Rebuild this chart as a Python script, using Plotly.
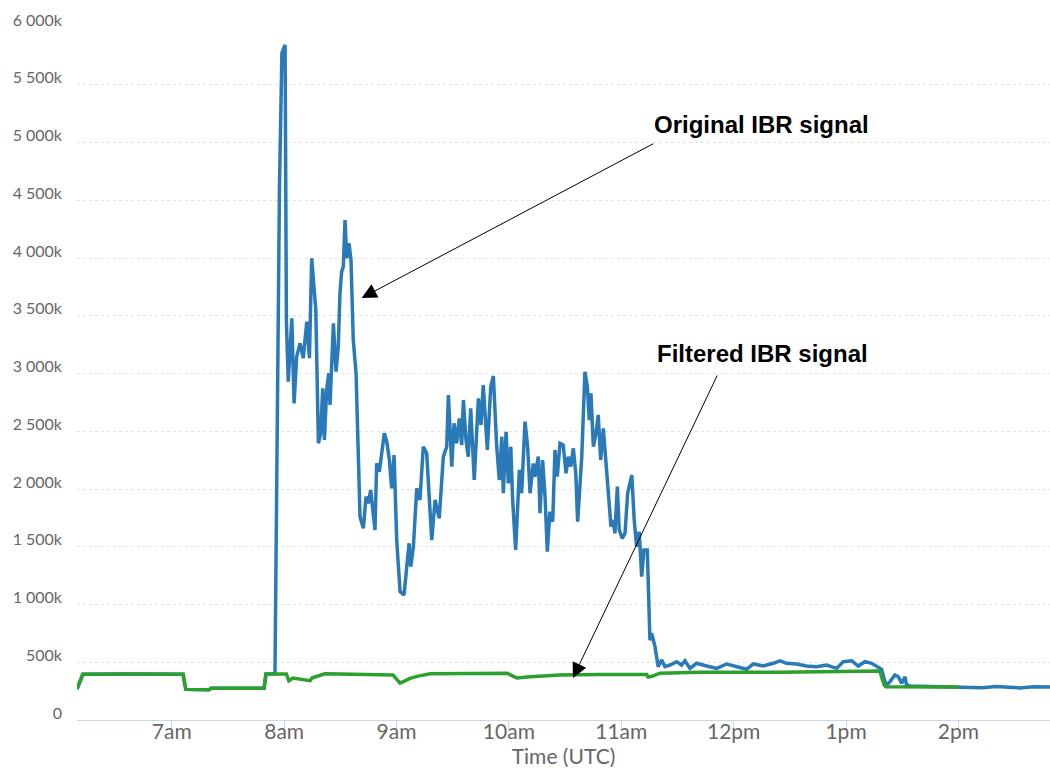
import pandas as pd
import plotly.graph_objects as go

DAY = "2018-01-01 "

# Original IBR signal (values in thousands)
orig_time = [
    "06:09:24", "06:12:30", "06:40:00", "07:06:00", "07:07:30", "07:20:00", "07:21:00", "07:49:18",
    "07:50:18", "07:55:06", "07:57:30", "07:58:48", "08:00:30", "08:01:12", "08:02:12", "08:04:06",
    "08:05:18", "08:06:42", "08:08:30", "08:10:12", "08:12:06", "08:13:30", "08:14:42", "08:16:00",
    "08:16:54", "08:18:18", "08:19:30", "08:20:36", "08:21:30", "08:22:42", "08:23:48", "08:24:30",
    "08:26:18", "08:27:42", "08:28:54", "08:29:48", "08:30:42", "08:31:36", "08:32:30", "08:33:24",
    "08:34:36", "08:35:42", "08:36:54", "08:38:24", "08:39:36", "08:40:30", "08:42:18", "08:43:42",
    "08:44:54", "08:46:12", "08:48:30", "08:49:24", "08:50:48", "08:52:06", "08:53:30", "08:54:48",
    "08:56:12", "08:57:24", "08:58:42", "09:00:06", "09:01:54", "09:04:00", "09:05:24", "09:06:42",
    "09:07:36", "09:09:00", "09:10:48", "09:12:30", "09:14:18", "09:16:06", "09:18:48", "09:20:36",
    "09:22:48", "09:25:00", "09:26:48", "09:27:42", "09:29:30", "09:30:42", "09:32:06", "09:33:30",
    "09:34:48", "09:35:42", "09:37:06", "09:38:18", "09:39:36", "09:41:30", "09:43:42", "09:45:06",
    "09:46:18", "09:48:30", "09:50:18", "09:51:42", "09:53:30", "09:54:54", "09:56:12", "09:57:00",
    "09:58:30", "09:59:42", "10:01:00", "10:02:00", "10:03:36", "10:05:36", "10:06:48", "10:08:36",
    "10:10:00", "10:11:18", "10:13:00", "10:13:54", "10:15:42", "10:16:36", "10:18:00", "10:19:18",
    "10:20:30", "10:21:54", "10:23:24", "10:24:36", "10:25:48", "10:27:18", "10:29:00", "10:30:30",
    "10:31:42", "10:33:00", "10:34:24", "10:35:42", "10:36:42", "10:38:54", "10:40:36", "10:41:54",
    "10:42:54", "10:43:48", "10:45:06", "10:46:30", "10:47:42", "10:49:00", "10:50:24", "10:51:48",
    "10:53:36", "10:54:30", "10:55:42", "10:56:36", "10:57:54", "10:58:54", "11:00:30", "11:02:00",
    "11:03:24", "11:05:36", "11:06:54", "11:08:12", "11:09:36", "11:10:54", "11:12:06", "11:13:54",
    "11:15:18", "11:16:12", "11:18:00", "11:19:42", "11:21:36", "11:23:18", "11:26:00", "11:29:36",
    "11:32:12", "11:34:00", "11:36:42", "11:40:12", "11:45:36", "11:50:54", "11:56:18", "12:01:36",
    "12:06:54", "12:10:30", "12:15:48", "12:21:06", "12:24:42", "12:28:18", "12:33:36", "12:38:54",
    "12:44:18", "12:49:36", "12:55:00", "12:58:30", "13:03:00", "13:06:30", "13:10:06", "13:13:42",
    "13:17:12", "13:19:00", "13:20:48", "13:21:42", "13:23:30", "13:26:06", "13:27:54", "13:29:42",
    "13:31:30", "13:32:18", "13:34:06", "14:00:00", "14:13:00", "14:20:00", "14:33:00", "14:40:00",
    "14:48:54",
]
orig_value = [
    268, 396, 398, 396, 265, 262, 275, 275,
    398, 400, 4615, 5775, 5845, 3450, 2929, 3478,
    2742, 3146, 3262, 3132, 3449, 3132, 3998, 3665,
    3550, 2396, 2482, 2872, 2424, 2857, 3002, 2727,
    3435, 3016, 3232, 3694, 3882, 3925, 4329, 3998,
    4127, 3983, 3290, 3002, 2338, 1760, 1660, 1934,
    1876, 1991, 1645, 2222, 2150, 2309, 2482, 2410,
    2251, 2006, 2294, 1558, 1111, 1082, 1327, 1530,
    1327, 1500, 2006, 1905, 2366, 2309, 1558, 1905,
    1746, 2280, 2366, 2814, 2193, 2569, 2396, 2612,
    2381, 2771, 2424, 2280, 2699, 2078, 2785, 2554,
    2900, 2338, 2886, 2978, 2366, 2078, 2453, 1963,
    2496, 2049, 2366, 1905, 1472, 2165, 1963, 2583,
    2366, 1963, 2222, 2107, 2280, 1790, 2251, 1934,
    1457, 1804, 1717, 2338, 2107, 2396, 2381, 2136,
    2280, 2193, 2352, 2136, 1717, 2280, 3015, 2886,
    2597, 2828, 2366, 2482, 2641, 2251, 2525, 2251,
    1905, 1674, 1732, 1616, 2020, 1645, 1573, 1616,
    1963, 2121, 1732, 1500, 1630, 1241, 1472, 1472,
    690, 751, 635, 462, 520, 462, 476, 505,
    476, 513, 447, 491, 467, 447, 485, 462,
    439, 485, 467, 491, 513, 491, 485, 467,
    462, 476, 447, 505, 513, 467, 505, 491,
    456, 439, 332, 303, 332, 390, 375, 318,
    375, 303, 294, 288, 280, 290, 278, 288,
    285,
]

# Filtered IBR signal (values in thousands)
filt_time = [
    "06:09:24", "06:12:30", "06:40:00", "07:06:00", "07:07:30", "07:20:00", "07:21:00", "07:49:18",
    "07:50:18", "08:01:12", "08:02:30", "08:04:42", "08:13:48", "08:15:00", "08:21:48", "08:47:24",
    "08:50:00", "08:58:06", "09:01:54", "09:07:12", "09:11:30", "09:17:54", "09:59:00", "10:04:18",
    "10:11:18", "10:27:18", "10:48:36", "11:13:36", "11:14:18", "11:16:24", "11:20:42", "11:42:00",
    "12:24:42", "13:02:00", "13:18:00", "13:20:24", "13:21:18", "14:00:12",
]
filt_value = [
    268, 396, 398, 396, 265, 262, 275, 275,
    398, 398, 340, 363, 340, 365, 400, 396,
    398, 390, 320, 360, 380, 400, 405, 363,
    375, 390, 395, 395, 372, 378, 405, 413,
    413, 418, 424, 300, 288, 285,
]

y_tick_vals = [0, 500, 1000, 1500, 2000, 2500, 3000, 3500, 4000, 4500, 5000, 5500, 6000]
y_tick_text = ["0", "500k", "1 000k", "1 500k", "2 000k", "2 500k", "3 000k", "3 500k",
               "4 000k", "4 500k", "5 000k", "5 500k", "6 000k"]
x_tick_vals = ["07:00", "08:00", "09:00", "10:00", "11:00", "12:00", "13:00", "14:00"]
x_tick_text = ["7am", "8am", "9am", "10am", "11am", "12pm", "1pm", "2pm"]
x_range = ["06:09:24", "14:48:54"]

orig_x = pd.to_datetime([DAY + t for t in orig_time])
filt_x = pd.to_datetime([DAY + t for t in filt_time])

fig = go.Figure()
fig.add_trace(go.Scatter(x=orig_x, y=orig_value, mode="lines", name="Original IBR signal",
                         line=dict(color="#2a7ab8", width=3.5)))
fig.add_trace(go.Scatter(x=filt_x, y=filt_value, mode="lines", name="Filtered IBR signal",
                         line=dict(color="#2ca02c", width=3.5)))

arrow_common = dict(showarrow=True, arrowhead=2, arrowsize=3, arrowwidth=1,
                    arrowcolor="#000000", text="", xref="x", yref="y", axref="pixel", ayref="pixel")
fig.add_annotation(x=pd.Timestamp(DAY + "08:41:24"), y=3654, ax=293, ay=-155, **arrow_common)
fig.add_annotation(x=pd.Timestamp(DAY + "10:34:12"), y=364, ax=145, ay=-304, **arrow_common)

label_font = dict(family="Liberation Sans, Arial, sans-serif", size=24, color="#000000")
fig.add_annotation(x=pd.Timestamp(DAY + "12:15:06"), y=5160, text="<b>Original IBR signal</b>",
                   showarrow=False, font=label_font, xanchor="center", yanchor="middle")
fig.add_annotation(x=pd.Timestamp(DAY + "12:15:36"), y=3169, text="<b>Filtered IBR signal</b>",
                   showarrow=False, font=label_font, xanchor="center", yanchor="middle")

fig.update_layout(
    width=1050, height=771,
    margin=dict(l=77, r=0, t=27, b=51),
    paper_bgcolor="white", plot_bgcolor="white",
    showlegend=False,
    font=dict(family="Lato, sans-serif", color="#666666"),
    xaxis=dict(
        type="date", automargin=False,
        range=[DAY + x_range[0], DAY + x_range[1]],
        tickvals=[DAY + t for t in x_tick_vals], ticktext=x_tick_text,
        tickfont=dict(size=21, color="#666666"),
        showgrid=False, zeroline=False,
        showline=True, linecolor="#ccd6eb", linewidth=1,
        ticks="outside", ticklen=8, tickcolor="#ccd6eb", tickwidth=1,
        ticklabelstandoff=-15,
        title=dict(text="Time (UTC)", font=dict(size=21, color="#666666"), standoff=4),
    ),
    yaxis=dict(
        automargin=False,
        range=[0, 6000],
        tickvals=y_tick_vals, ticktext=y_tick_text,
        tickfont=dict(size=16, color="#666666"),
        showgrid=True, gridcolor="#e3e3e3", gridwidth=1, griddash="3px,3px",
        zeroline=False, showline=False,
        ticks="", ticklabelshift=-7, ticklabelstandoff=14,
    ),
)

fig.write_html("out.html", config={"displayModeBar": False},
               post_script="document.body.style.margin='0';")
